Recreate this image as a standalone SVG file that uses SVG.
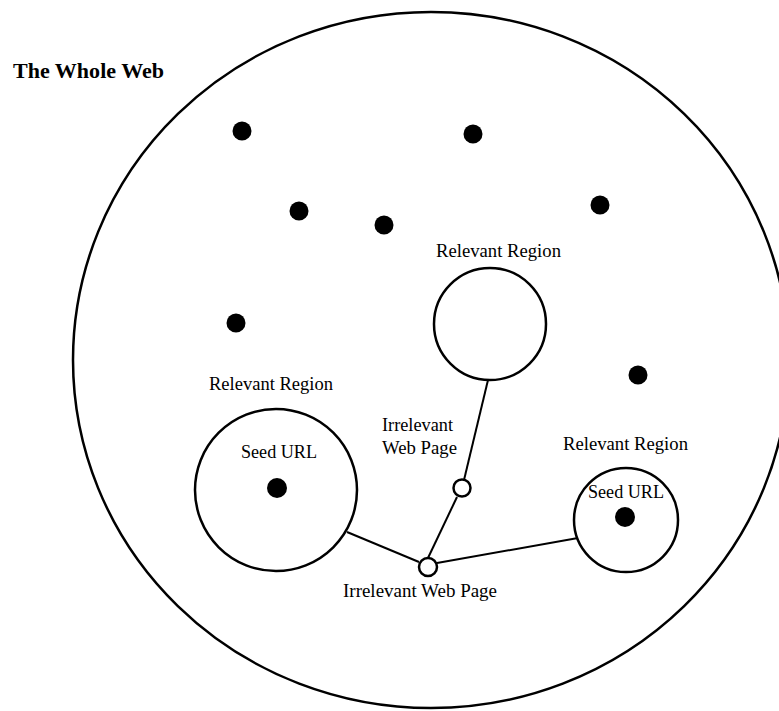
<svg xmlns="http://www.w3.org/2000/svg" width="779" height="711" viewBox="0 0 779 711">
<style>
  text { font-family: "Liberation Serif", "Times New Roman", serif; font-size: 18px; fill: #000; }
  .title { font-size: 21px; font-weight: bold; }
  .ring { fill: none; stroke: #000; stroke-width: 2.5; }
  .page { fill: #fff; stroke: #000; stroke-width: 2.5; }
  .dot { fill: #000; }
  .link { stroke: #000; stroke-width: 2; fill: none; }
</style>
<rect width="779" height="711" fill="#fff"/>
<g id="whole-web">
  <ellipse class="ring" cx="431" cy="360" rx="358" ry="348" stroke-width="3.5"/>
  <text class="title" x="13" y="78" textLength="151" lengthAdjust="spacingAndGlyphs">The Whole Web</text>
</g>
<g id="pages">
  <circle class="dot" cx="242" cy="131" r="9.5"/>
  <circle class="dot" cx="473" cy="134" r="9.5"/>
  <circle class="dot" cx="299" cy="211" r="9.5"/>
  <circle class="dot" cx="384" cy="225" r="9.5"/>
  <circle class="dot" cx="600" cy="205" r="9.5"/>
  <circle class="dot" cx="236" cy="323" r="9.5"/>
  <circle class="dot" cx="638" cy="375" r="9.5"/>
</g>
<g id="connectors">
  <line class="link" x1="488" y1="380" x2="464" y2="480"/>
  <line class="link" x1="457" y1="497" x2="428" y2="558"/>
  <line class="link" x1="347" y1="532" x2="419" y2="562"/>
  <line class="link" x1="437" y1="563" x2="578" y2="538"/>
</g>
<g id="region-top">
  <circle class="ring" cx="490" cy="324" r="56"/>
  <text x="436" y="257" textLength="125" lengthAdjust="spacingAndGlyphs">Relevant Region</text>
</g>
<g id="region-left">
  <circle class="ring" cx="276" cy="490" r="81"/>
  <text x="209" y="390" textLength="124" lengthAdjust="spacingAndGlyphs">Relevant Region</text>
  <text x="241" y="458" textLength="76" lengthAdjust="spacingAndGlyphs">Seed URL</text>
  <circle class="dot" cx="277" cy="488" r="10"/>
</g>
<g id="region-right">
  <circle class="ring" cx="626" cy="520" r="52"/>
  <text x="563" y="450" textLength="125" lengthAdjust="spacingAndGlyphs">Relevant Region</text>
  <text x="588" y="498" textLength="76" lengthAdjust="spacingAndGlyphs">Seed URL</text>
  <circle class="dot" cx="625" cy="517" r="10"/>
</g>
<g id="irrelevant-upper">
  <circle class="page" cx="462" cy="488" r="8.5"/>
  <text x="382" y="431" textLength="71" lengthAdjust="spacingAndGlyphs">Irrelevant</text>
  <text x="382" y="454" textLength="75" lengthAdjust="spacingAndGlyphs">Web Page</text>
</g>
<g id="irrelevant-lower">
  <circle class="page" cx="428" cy="567" r="9"/>
  <text x="343" y="597" textLength="154" lengthAdjust="spacingAndGlyphs">Irrelevant Web Page</text>
</g>
</svg>
